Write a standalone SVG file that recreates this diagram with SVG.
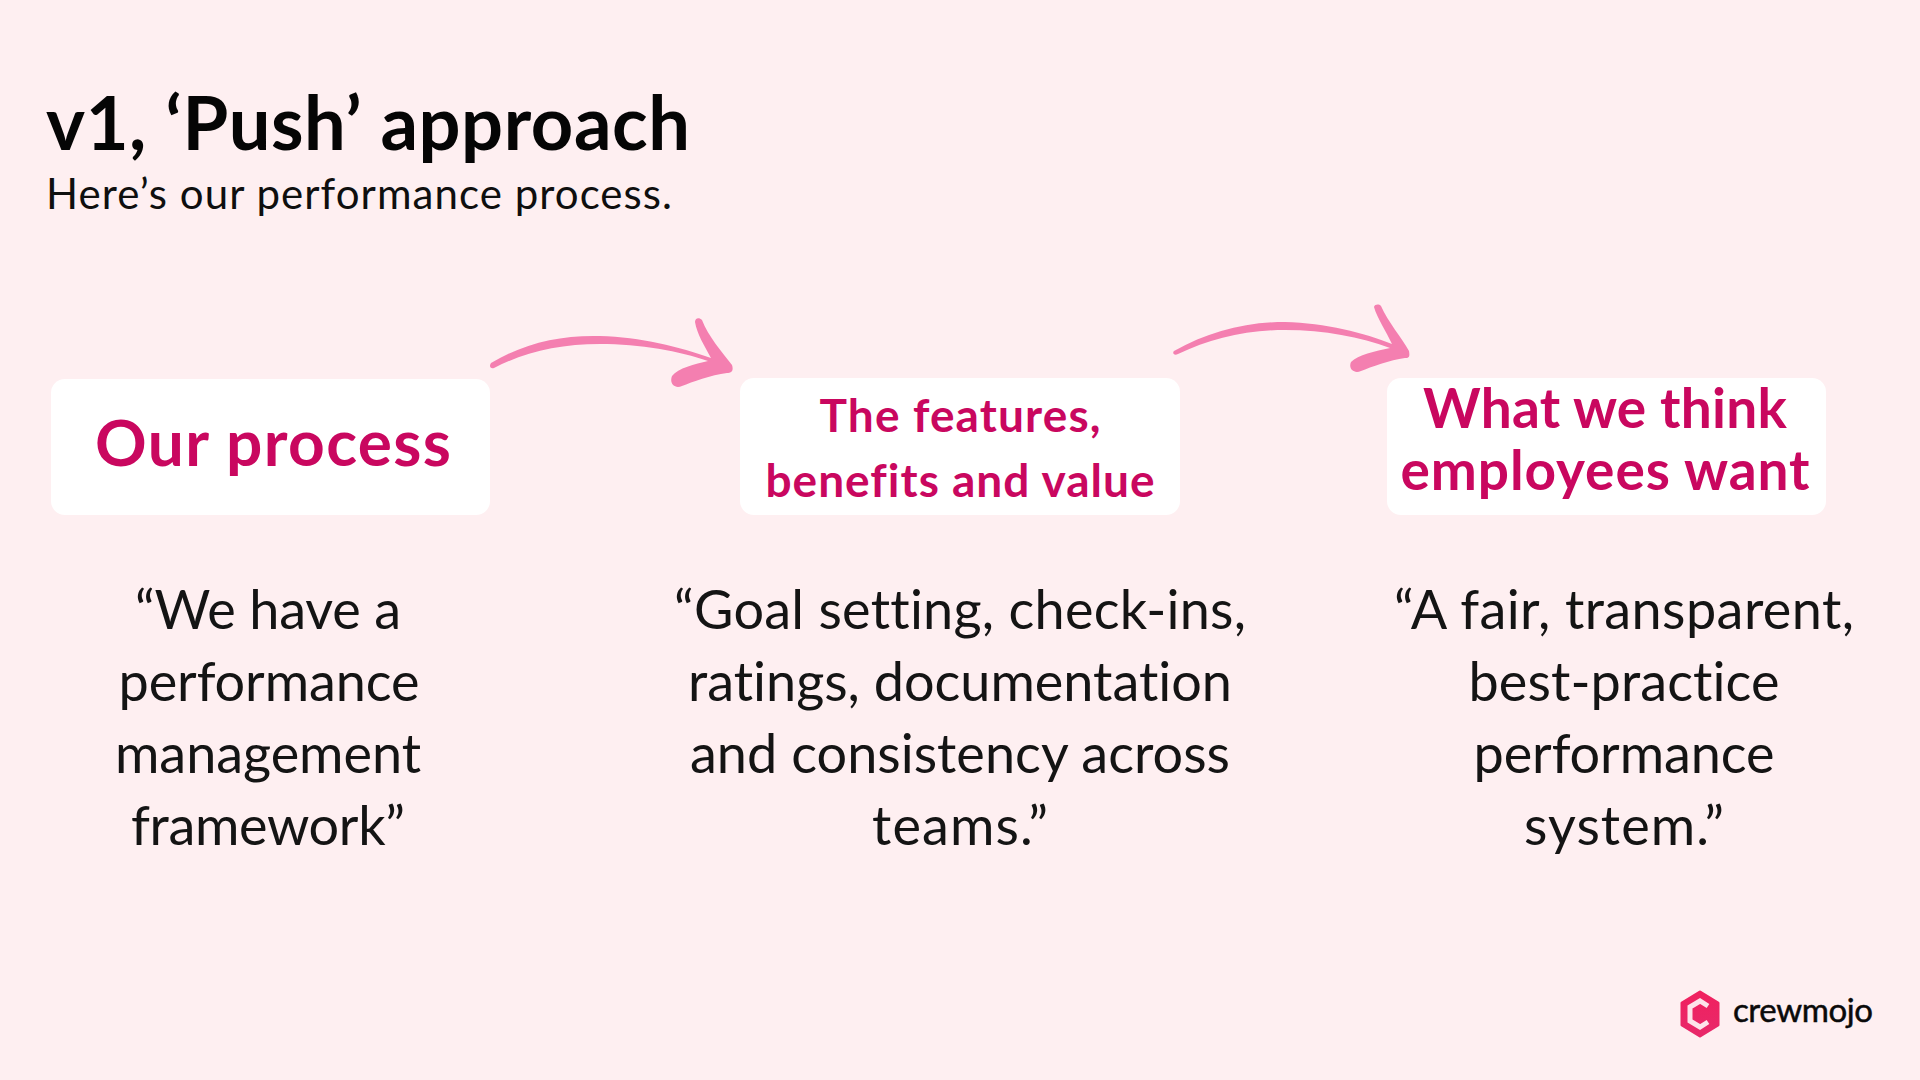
<svg xmlns="http://www.w3.org/2000/svg" width="1920" height="1080" viewBox="0 0 1920 1080">
<defs>
<linearGradient id="hex" x1="0" y1="0" x2="0" y2="1"><stop offset="0" stop-color="#f0215f"/><stop offset="1" stop-color="#e8286a"/></linearGradient>
</defs>
<style>
text{font-family:"Lato","Noto Sans",sans-serif;font-variant-ligatures:none}
.box{fill:#fff}
.head{fill:#c9075f;font-weight:700;text-anchor:middle}
.body{fill:#141414;font-size:54px;text-anchor:middle}
.arrow{fill:#f47fb0}
</style>
<rect width="1920" height="1080" fill="#feeff1"/>
<g id="title">
<text x="46" y="150" font-size="74" font-weight="700" fill="#050505" textLength="644" lengthAdjust="spacing">v1, ‘Push’ approach</text>
<text x="46" y="209" font-size="42" fill="#0f0f0f" textLength="626" lengthAdjust="spacing">Here’s our performance process.</text>
</g>
<g id="connectors">
<path class="arrow" d="M491 363C525 343 560 335 600 336C640 337 680 347 711 358C704 345 697 334 695 322C695 318 699 317 702 320C708 336 722 352 732 365C734 371 731 373 727 373C711 375 692 382 682 386C675 389 669 384 672 376C678 368 695 364 708 361C680 351 640 344 600 344C560 344 525 352 494 368C490 369 489 366 491 363Z"/>
<path class="arrow" d="M1174 351C1208 332 1245 322 1285 322C1325 323 1365 333 1392 344C1386 331 1377 318 1374 307C1375 304 1379 304 1381 306C1388 322 1402 338 1409 351C1410 357 1409 358 1405 358C1390 360 1371 367 1361 371C1354 374 1348 369 1351 362C1358 355 1375 351 1390 348C1360 337 1325 330 1285 330C1245 330 1210 339 1178 354C1174 356 1172 353 1174 351Z"/>
</g>
<g id="node-process">
<rect class="box" x="51" y="379" width="439" height="136" rx="14"/>
<text class="head" x="273" y="466" font-size="64" textLength="356">Our process</text>
<text class="body" x="268" y="629" textLength="266">“We have a</text>
<text class="body" x="269" y="701" textLength="301">performance</text>
<text class="body" x="268" y="773" textLength="306">management</text>
<text class="body" x="268" y="845" textLength="274">framework”</text>
</g>
<g id="node-features">
<rect class="box" x="740" y="378" width="440" height="137" rx="14"/>
<text class="head" x="960" y="432" font-size="46" textLength="281">The features,</text>
<text class="head" x="960" y="497" font-size="46" textLength="389">benefits and value</text>
<text class="body" x="960" y="629" textLength="572">“Goal setting, check-ins,</text>
<text class="body" x="960" y="701" textLength="544">ratings, documentation</text>
<text class="body" x="960" y="773" textLength="540">and consistency across</text>
<text class="body" x="960" y="845" textLength="176">teams.”</text>
</g>
<g id="node-want">
<rect class="box" x="1387" y="378" width="439" height="137" rx="14"/>
<text class="head" x="1605" y="428" font-size="55" textLength="364">What we think</text>
<text class="head" x="1605" y="490" font-size="55" textLength="409">employees want</text>
<text class="body" x="1624" y="629" textLength="460">“A fair, transparent,</text>
<text class="body" x="1624" y="701" textLength="311">best-practice</text>
<text class="body" x="1624" y="773" textLength="301">performance</text>
<text class="body" x="1624" y="845" textLength="200">system.”</text>
</g>
<g id="logo">
<path d="M1700 992L1718 1003V1025L1700 1036L1682 1025V1003Z" fill="url(#hex)" stroke="url(#hex)" stroke-width="3" stroke-linejoin="round"/>
<path d="M1708 1006L1700 1001L1690 1007V1021L1700 1027L1708 1022" fill="none" stroke="#fde3ea" stroke-width="5"/>
<text x="1733" y="1022" font-size="33" fill="#0a0a0a" stroke="#0a0a0a" stroke-width=".5" textLength="140">crewmojo</text>
</g>
</svg>
